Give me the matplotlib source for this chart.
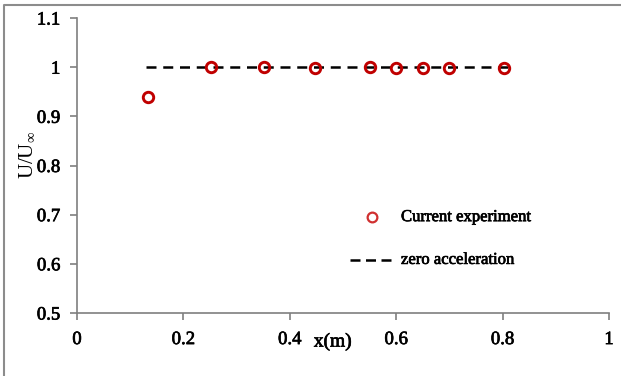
import matplotlib
matplotlib.use("Agg")
import matplotlib.pyplot as plt
from matplotlib.lines import Line2D
import matplotlib.patheffects as pe

# Data
x_exp = [0.133, 0.251, 0.351, 0.448, 0.550, 0.600, 0.651, 0.700, 0.803]
u_exp = [0.939, 1.001, 1.001, 0.999, 1.001, 0.999, 0.999, 0.999, 0.999]
x_zero = [0.13, 0.81]
u_zero = [1.0, 1.0]
xticks = [0, 0.2, 0.4, 0.6, 0.8, 1]
xticklabels = ["0", "0.2", "0.4", "0.6", "0.8", "1"]
yticks = [0.5, 0.6, 0.7, 0.8, 0.9, 1.0, 1.1]
yticklabels = ["0.5", "0.6", "0.7", "0.8", "0.9", "1", "1.1"]

plt.rcParams['font.family'] = ['Liberation Serif', 'DejaVu Serif']
plt.rcParams['mathtext.fontset'] = 'custom'
plt.rcParams['mathtext.rm'] = 'Liberation Serif'
plt.rcParams['mathtext.it'] = 'Liberation Serif'

fig = plt.figure(figsize=(6.21, 3.76), dpi=100)
ax = fig.add_axes([77/621, 1-313/376, (609-77)/621, (313-18)/376])

red = '#C00000'
gray = '#7f7f7f'
heavy = [pe.withStroke(linewidth=0.5, foreground='black')]

ax.plot(x_zero, u_zero, color='black', lw=1.8, dashes=(4.0, 2.7), zorder=2)
ax.plot(x_exp, u_exp, linestyle='none', marker='o', markersize=7.5,
        markerfacecolor='none', markeredgecolor=red, markeredgewidth=2.1, zorder=3)

ax.set_xlim(0, 1)
ax.set_ylim(0.5, 1.1)
ax.set_xticks(xticks)
ax.set_xticklabels(xticklabels)
ax.set_yticks(yticks)
ax.set_yticklabels(yticklabels)
for s in ['top', 'right']:
    ax.spines[s].set_visible(False)
for s in ['left', 'bottom']:
    ax.spines[s].set_color(gray)
    ax.spines[s].set_linewidth(1.2)
ax.tick_params(axis='both', direction='out', length=5, width=1.2, color=gray,
               labelsize=13.5, labelcolor='black')
ax.tick_params(axis='x', pad=8)
ax.tick_params(axis='y', pad=7)
for lab in ax.get_xticklabels() + ax.get_yticklabels():
    lab.set_path_effects(heavy)

# axis labels
ax.text(0.481, -0.098, 'x(m)', transform=ax.transAxes, ha='center', va='center',
        fontsize=14, path_effects=heavy)
ax.text(-0.092, 0.535, r'U/U$_{\infty}$', transform=ax.transAxes, ha='center', va='center',
        rotation=90, fontsize=15)

# legend (manual)
ax.plot([0.554], [0.325], transform=ax.transAxes, linestyle='none', marker='o',
        markersize=7, markerfacecolor='none', markeredgecolor='#d03030', markeredgewidth=1.6,
        clip_on=False)
ax.text(0.609, 0.325, 'Current experiment', transform=ax.transAxes, ha='left', va='center',
        fontsize=12, path_effects=heavy)
ax.plot([0.513, 0.594], [0.180, 0.180], transform=ax.transAxes, color='black', lw=1.8,
        dashes=(4.0, 2.2), clip_on=False)
ax.text(0.609, 0.180, 'zero acceleration', transform=ax.transAxes, ha='left', va='center',
        fontsize=12, path_effects=heavy)

# figure border (top and left)
fig.add_artist(Line2D([4/621, 4/621, 1.0], [0.0, 1-5/376, 1-5/376],
                      transform=fig.transFigure, color='#8c8c8c', lw=1.5))

fig.savefig('out.png', dpi=100)
